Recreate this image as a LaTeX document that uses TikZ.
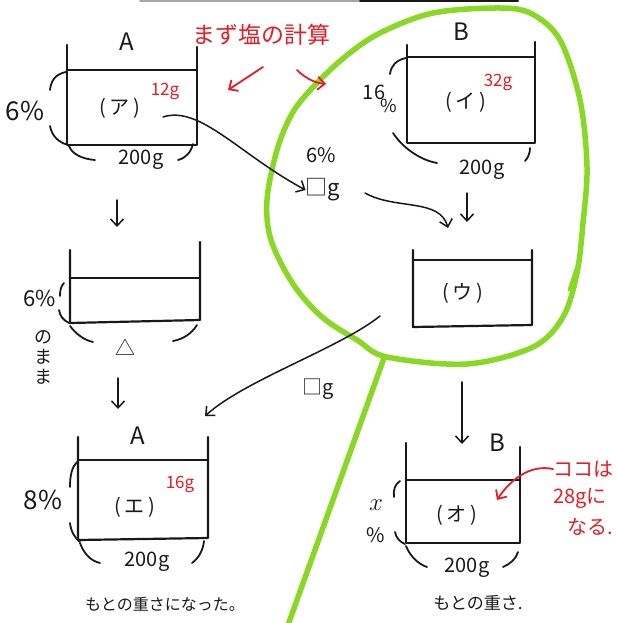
\documentclass[tikz,border=0pt]{standalone}
\usepackage{fontspec}
\newfontfamily\jp{Noto Sans CJK JP}
\usetikzlibrary{arrows.meta}
\definecolor{pen}{RGB}{25,25,25}
\definecolor{redpen}{RGB}{232,28,36}
\definecolor{lime}{RGB}{138,216,38}
\begin{document}
\begin{tikzpicture}[x=1pt,y=-1pt,line cap=round,line join=round,
  box/.style={draw=pen,line width=2.2pt},
  bracearc/.style={draw=pen,line width=1.8pt},
  arr/.style={draw=pen,line width=1.5pt,-{Straight Barb[length=7pt,width=13pt,line width=1.5pt]}},
  rarr/.style={draw=redpen,line width=1.8pt,-{Straight Barb[length=7pt,width=13pt,line width=1.8pt]}},
  greenpen/.style={draw=lime,line width=5.5pt},
  txt/.style={font=\jp\fontsize{20}{22}\selectfont,text=pen,inner sep=0pt},
  big/.style={txt,font=\jp\fontsize{24}{26}\selectfont},
  small/.style={txt,font=\jp\fontsize{16}{18}\selectfont},
  rtxt/.style={txt,text=redpen,font=\jp\fontsize{17}{19}\selectfont},
  rbig/.style={txt,text=redpen,font=\jp\fontsize{21}{23}\selectfont}]
\useasboundingbox (0,0) rectangle (617,623);
\fill[white] (0,0) rectangle (617,623);
% scan edge at the top
\draw[gray!70,line width=1.5pt] (140,0.8) -- (360,0.8);
\draw[pen,line width=2pt] (360,1) -- (518,1);

% green loop
\draw[greenpen] plot[smooth cycle,tension=0.55] coordinates {
  (387,357) (357,340) (322,317) (293,284) (271,240) (267,200) (277,150)
  (293,112) (317,83) (346,56) (380,33) (433,13) (500,8) (532,14)
  (560,40) (580,100) (587,167) (583,223) (577,273) (563,317) (533,347)
  (467,364)};
\draw[greenpen] (384,358) -- (288,625);
\draw[draw=lime,line width=3pt] (577,266) -- (569,290);

% container A (top)
\draw[box] (67,45) -- (67,145) -- (197,145) -- (197,47);
\draw[box] (67,70) -- (197,70);
\draw[bracearc] (66,72) .. controls (56,74) and (51,80) .. (50,90);
\draw[bracearc] (50,126) .. controls (52,136) and (58,142) .. (68,145);
\draw[bracearc] (69,146) .. controls (72,154) and (82,159) .. (95,160);
\draw[bracearc] (178,160) .. controls (186,158) and (191,152) .. (193,144);
\node[big] (nA) at (127,42) {A};
\node[txt] (pA) at (120,108) {(\,ア\,)};
\node[rtxt] (gA) at (165,91) {12g};
\node[txt,font=\jp\fontsize{26}{28}\selectfont] (cA) at (25,111) {6\%};
\node[txt] (wA) at (141,160) {200g};

% title
\node[rbig,font=\jp\fontsize{23}{25}\selectfont] (title) at (261,35) {まず塩の計算};
\coordinate (r1s) at (263,67); \coordinate (r1e) at (228,90);
\draw[rarr] (r1s) -- (r1e);
\coordinate (r2s) at (297,70); \coordinate (r2e) at (326,84);
\draw[rarr] (r2s) .. controls (305,78) and (315,83) .. (r2e);

% container B (top)
\draw[box] (407,45) -- (407,143) -- (535,143) -- (535,42);
\draw[box] (407,57) -- (535,57);
\draw[bracearc] (406,58) .. controls (396,60) and (391,66) .. (390,74);
\draw[bracearc] (393,133) .. controls (403,148) and (420,160) .. (437,163);
\draw[bracearc] (530,148) .. controls (530,153) and (528,158) .. (525,161);
\node[big] (nB) at (461,32) {B};
\node[txt] (pB) at (466,102) {(\,イ\,)};
\node[rtxt] (gB) at (498,82) {32g};
\node[txt] (cB1) at (374,92) {16};
\node[txt,font=\jp\fontsize{18}{20}\selectfont] (cB2) at (389,106) {\%};
\node[txt] (wB) at (482,170) {200g};

% transferred salt water
\node[txt] (m6) at (321,155) {6\%};
\node[txt,font=\jp\fontsize{22}{24}\selectfont] (mg) at (323,190) {□g};
\coordinate (a1s) at (163,117);
\draw[arr] (a1s) .. controls (200,105) and (240,155) .. (mg.west);
\coordinate (a2s) at (365,193); \coordinate (a2e) at (448,228);
\draw[arr] (a2s) .. controls (395,210) and (440,198) .. (a2e);
\coordinate (a3e) at (467,222);
\draw[arr] (467,193) -- (a3e);

% container U
\draw[box] (413,250) -- (413,327) -- (532,325) -- (532,250);
\draw[box] (413,260) -- (532,260);
\node[txt] (pC) at (463,293) {(\,ウ\,)};

% middle-left container
\draw[box] (70,250) -- (70,323) -- (200,320) -- (200,242);
\draw[box] (70,278) -- (200,278);
\draw[bracearc] (64,283) .. controls (61,286) and (60,290) .. (60,296);
\draw[bracearc] (59,310) .. controls (60,316) and (63,320) .. (69,323);
\draw[bracearc] (70,326) .. controls (76,334) and (84,340) .. (93,342);
\draw[bracearc] (173,341) .. controls (184,339) and (192,333) .. (197,325);
\node[txt,font=\jp\fontsize{22}{24}\selectfont] (c6) at (40,298) {6\%};
\node[small,align=center,font=\jp\fontsize{18}{20}\selectfont] (mama) at (43,357) {の\\ま\\ま};
\node[txt] (tri) at (125,347) {△};
\coordinate (a4s) at (117,200); \coordinate (a4e) at (117,227);
\draw[arr] (a4s) -- (a4e);
\coordinate (a5s) at (118,378); \coordinate (a5e) at (118,409);
\draw[arr] (a5s) -- (a5e);

% U -> E
\coordinate (a6s) at (380,316); \coordinate (a6e) at (205,416);
\draw[arr] (a6s) .. controls (340,348) and (245,380) .. (a6e);
\node[txt] (mg2) at (318,389) {□g};

% container E (bottom A)
\draw[box] (78,437) -- (78,540) -- (208,538) -- (208,437);
\draw[box] (78,460) -- (208,460);
\draw[bracearc] (77,462) .. controls (72,467) and (70,475) .. (70,487);
\draw[bracearc] (70,523) .. controls (71,532) and (75,538) .. (80,542);
\draw[bracearc] (80,543) .. controls (84,554) and (91,561) .. (100,563);
\draw[bracearc] (192,563) .. controls (199,558) and (203,550) .. (204,541);
\node[big] (nA2) at (138,436) {A};
\node[txt] (pD) at (135,507) {(\,エ\,)};
\node[rtxt] (gD) at (180,484) {16g};
\node[txt,font=\jp\fontsize{26}{28}\selectfont] (cD) at (43,500) {8\%};
\node[txt] (wD) at (147,562) {200g};
\node[small] (noteD) at (165,604) {もとの重さになった。};

% container O (bottom B)
\draw[box] (406,443) -- (406,543) -- (520,543) -- (520,447);
\draw[box] (406,480) -- (520,480);
\draw[bracearc] (400,481) .. controls (395,484) and (393,490) .. (394,497);
\draw[bracearc] (395,532) .. controls (396,538) and (400,542) .. (405,544);
\draw[bracearc] (406,546) .. controls (410,556) and (418,564) .. (427,567);
\draw[bracearc] (503,567) .. controls (510,564) and (516,559) .. (518,552);
\node[big] (nB2) at (497,443) {B};
\coordinate (a7s) at (462,382); \coordinate (a7e) at (462,444);
\draw[arr] (a7s) -- (a7e);
\node[txt] (pE) at (457,515) {(\,オ\,)};
\node[txt,font=\fontsize{26}{28}\selectfont] (xE) at (376,505) {$x$};
\node[txt] (pctE) at (376,535) {\%};
\node[txt] (wE) at (467,568) {200g};
\node[small,font=\jp\fontsize{17}{19}\selectfont] (noteE) at (478,603) {もとの重さ.};

% red note
\node[rbig,font=\jp\fontsize{20}{22}\selectfont,anchor=west] (red1) at (553,469) {ココは};
\node[rbig,font=\jp\fontsize{20}{22}\selectfont,anchor=west] (red2) at (553,498) {28gに};
\node[rbig,font=\jp\fontsize{20}{22}\selectfont,anchor=west] (red3) at (567,527) {なる.};
\coordinate (r3e) at (497,500);
\draw[rarr] (red1.west) .. controls (530,464) and (510,480) .. (r3e);
\end{tikzpicture}
\end{document}
